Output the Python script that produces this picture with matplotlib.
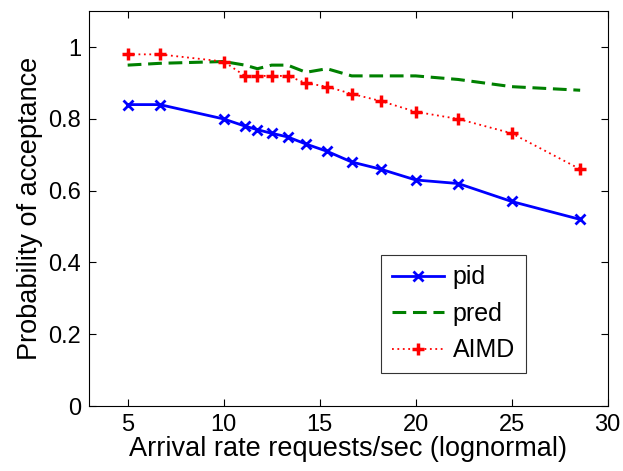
import matplotlib
matplotlib.use("Agg")
import matplotlib.pyplot as plt

plt.rcParams["font.family"] = ["Liberation Sans", "DejaVu Sans"]

# arrival rates (requests/sec)
rates = [5, 6.67, 10, 11.11, 11.76, 12.5, 13.33, 14.29, 15.38, 16.67, 18.18, 20, 22.22, 25, 28.57]
pid = [0.84, 0.84, 0.80, 0.78, 0.77, 0.76, 0.75, 0.73, 0.71, 0.68, 0.66, 0.63, 0.62, 0.57, 0.52]
pred = [0.95, 0.955, 0.96, 0.95, 0.94, 0.95, 0.95, 0.93, 0.94, 0.92, 0.92, 0.92, 0.91, 0.89, 0.88]
aimd = [0.98, 0.98, 0.96, 0.92, 0.92, 0.92, 0.92, 0.90, 0.89, 0.87, 0.85, 0.82, 0.80, 0.76, 0.66]

fig = plt.figure(figsize=(6.23, 4.71), dpi=100)
ax = fig.add_axes([0.1433, 0.138, 0.832, 0.838])

ax.plot(rates, pid, color="#0000ff", lw=2, marker="x", ms=7, mew=2, label="pid")
ax.plot(rates, pred, color="#008000", lw=2.2, ls=(0, (4.5, 2.2)), label="pred")
ax.plot(rates, aimd, color="#ff0000", lw=1.3, ls=(0, (1, 2)), marker="+", ms=9, mew=2.5, label="AIMD")

ax.set_xlim(3, 30)
ax.set_ylim(0, 1.1)
ax.set_xticks([5, 10, 15, 20, 25, 30])
ax.set_yticks([0, 0.2, 0.4, 0.6, 0.8, 1])
ax.set_yticklabels(["0", "0.2", "0.4", "0.6", "0.8", "1"])
ax.tick_params(direction="in", top=True, right=True, labelsize=17, length=5, width=0.8, pad=6)
for s in ax.spines.values():
    s.set_linewidth(0.8)

ax.set_xlabel("Arrival rate requests/sec (lognormal)", fontsize=19.5, labelpad=0)
ax.set_ylabel("Probability of acceptance", fontsize=19.5, labelpad=4)

leg = ax.legend(loc="lower left", bbox_to_anchor=(0.563, 0.084), fontsize=18,
                fancybox=False, edgecolor="#333333", framealpha=1,
                handlelength=2.1, borderpad=0.42, borderaxespad=0,
                labelspacing=0.5, handletextpad=0.35)
leg.get_frame().set_linewidth(0.8)

fig.savefig("out.png", dpi=100)
